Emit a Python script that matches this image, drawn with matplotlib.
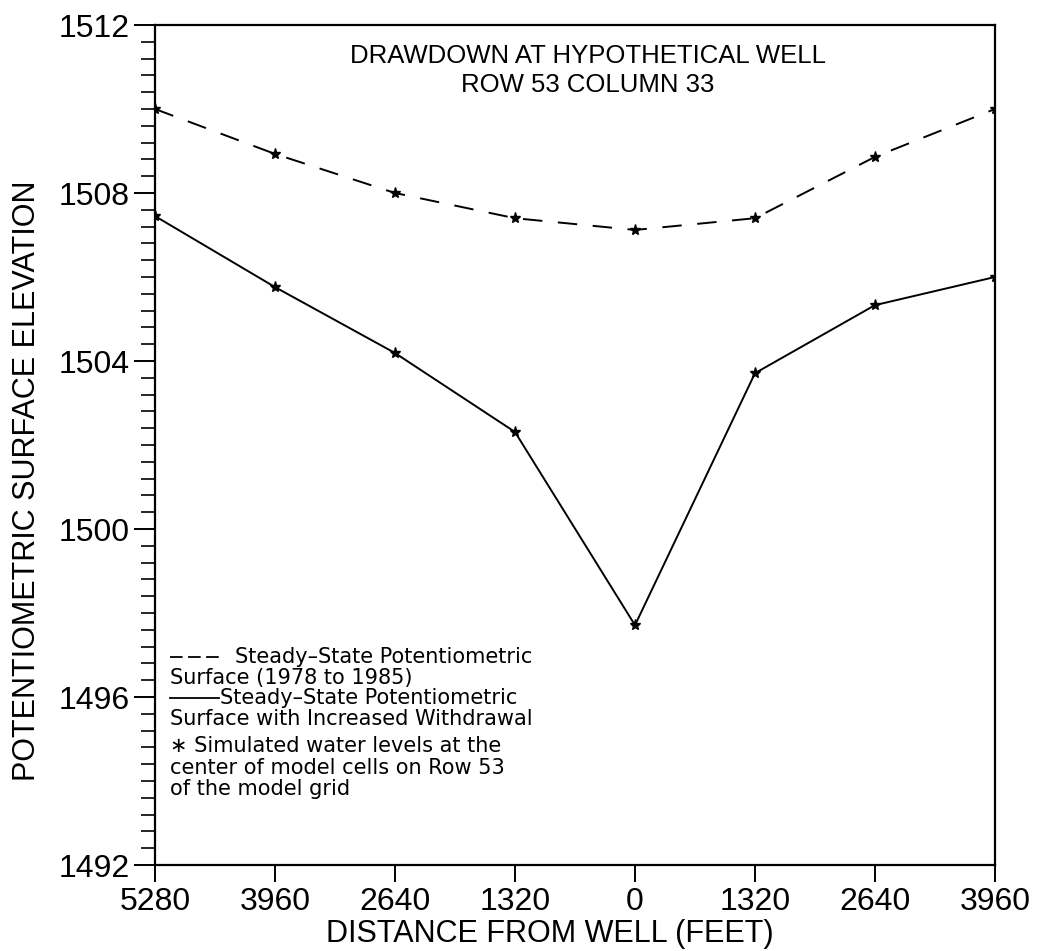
import matplotlib
matplotlib.use("Agg")
import matplotlib.pyplot as plt
from matplotlib.ticker import MultipleLocator, FixedLocator

# Data
distance = [-5280, -3960, -2640, -1320, 0, 1320, 2640, 3960]
tick_labels = ["5280", "3960", "2640", "1320", "0", "1320", "2640", "3960"]
steady_state = [1510.0, 1508.93, 1508.0, 1507.4, 1507.12, 1507.4, 1508.86, 1510.0]
with_withdrawal = [1507.45, 1505.76, 1504.19, 1502.31, 1497.71, 1503.71, 1505.33, 1506.0]

plt.rcParams['font.family'] = ['Liberation Sans', 'DejaVu Sans']

fig = plt.figure(figsize=(10.37, 9.51), dpi=100)
ax = fig.add_axes([155/1037, 1-865/951, 840/1037, 840/951])

ax.plot(distance, steady_state, color='black', lw=1.4, dashes=(10, 8),
        marker='*', markersize=8, markerfacecolor='black', markeredgecolor='black')
ax.plot(distance, with_withdrawal, color='black', lw=1.4,
        marker='*', markersize=8, markerfacecolor='black', markeredgecolor='black')

ax.set_xlim(-5280, 3960)
ax.set_ylim(1492, 1512)
ax.xaxis.set_major_locator(FixedLocator(distance))
ax.set_xticklabels(tick_labels)
ax.yaxis.set_major_locator(MultipleLocator(4))
ax.yaxis.set_minor_locator(MultipleLocator(0.4))
ax.tick_params(axis='both', which='major', direction='out', length=15, width=1.4,
               labelsize=23, pad=3, color='black')
ax.tick_params(axis='x', which='major', length=12, pad=4)
ax.tick_params(axis='y', which='minor', direction='out', length=10, width=1.2)
ax.tick_params(axis='x', which='minor', length=0)
for s in ax.spines.values():
    s.set_linewidth(1.6)

ax.set_xlabel("DISTANCE FROM WELL (FEET)", fontsize=22)
ax.xaxis.set_label_coords(0.470, -0.064)
ax.set_ylabel("POTENTIOMETRIC SURFACE ELEVATION", fontsize=22)
ax.yaxis.set_label_coords(-0.135, 0.458)

ax.text(0.515, 0.977, "DRAWDOWN AT HYPOTHETICAL WELL\nROW 53 COLUMN 33",
        transform=ax.transAxes, ha='center', va='top', fontsize=18.5,
        linespacing=1.25)

# Legend (text block)
lfs = 15
lfam = ['DejaVu Sans']
ax.plot([0.018, 0.078], [0.248, 0.248], transform=ax.transAxes, color='black',
        lw=1.3, dashes=(7, 3), clip_on=False)
ax.text(0.095, 0.248, "Steady\u2013State Potentiometric", transform=ax.transAxes,
        fontsize=lfs, family=lfam, va='center', ha='left')
ax.text(0.018, 0.223, "Surface (1978 to 1985)", transform=ax.transAxes,
        fontsize=lfs, family=lfam, va='center', ha='left')
ax.plot([0.018, 0.076], [0.199, 0.199], transform=ax.transAxes, color='black',
        lw=1.3, clip_on=False)
ax.text(0.077, 0.199, "Steady\u2013State Potentiometric", transform=ax.transAxes,
        fontsize=lfs, family=lfam, va='center', ha='left')
ax.text(0.018, 0.174, "Surface with Increased Withdrawal", transform=ax.transAxes,
        fontsize=lfs, family=lfam, va='center', ha='left')
ax.text(0.018, 0.142, "\u2217 Simulated water levels at the", transform=ax.transAxes,
        fontsize=lfs, family=lfam, va='center', ha='left')
ax.text(0.018, 0.116, "center of model cells on Row 53", transform=ax.transAxes,
        fontsize=lfs, family=lfam, va='center', ha='left')
ax.text(0.018, 0.090, "of the model grid", transform=ax.transAxes,
        fontsize=lfs, family=lfam, va='center', ha='left')

fig.savefig("out.png", dpi=100)
